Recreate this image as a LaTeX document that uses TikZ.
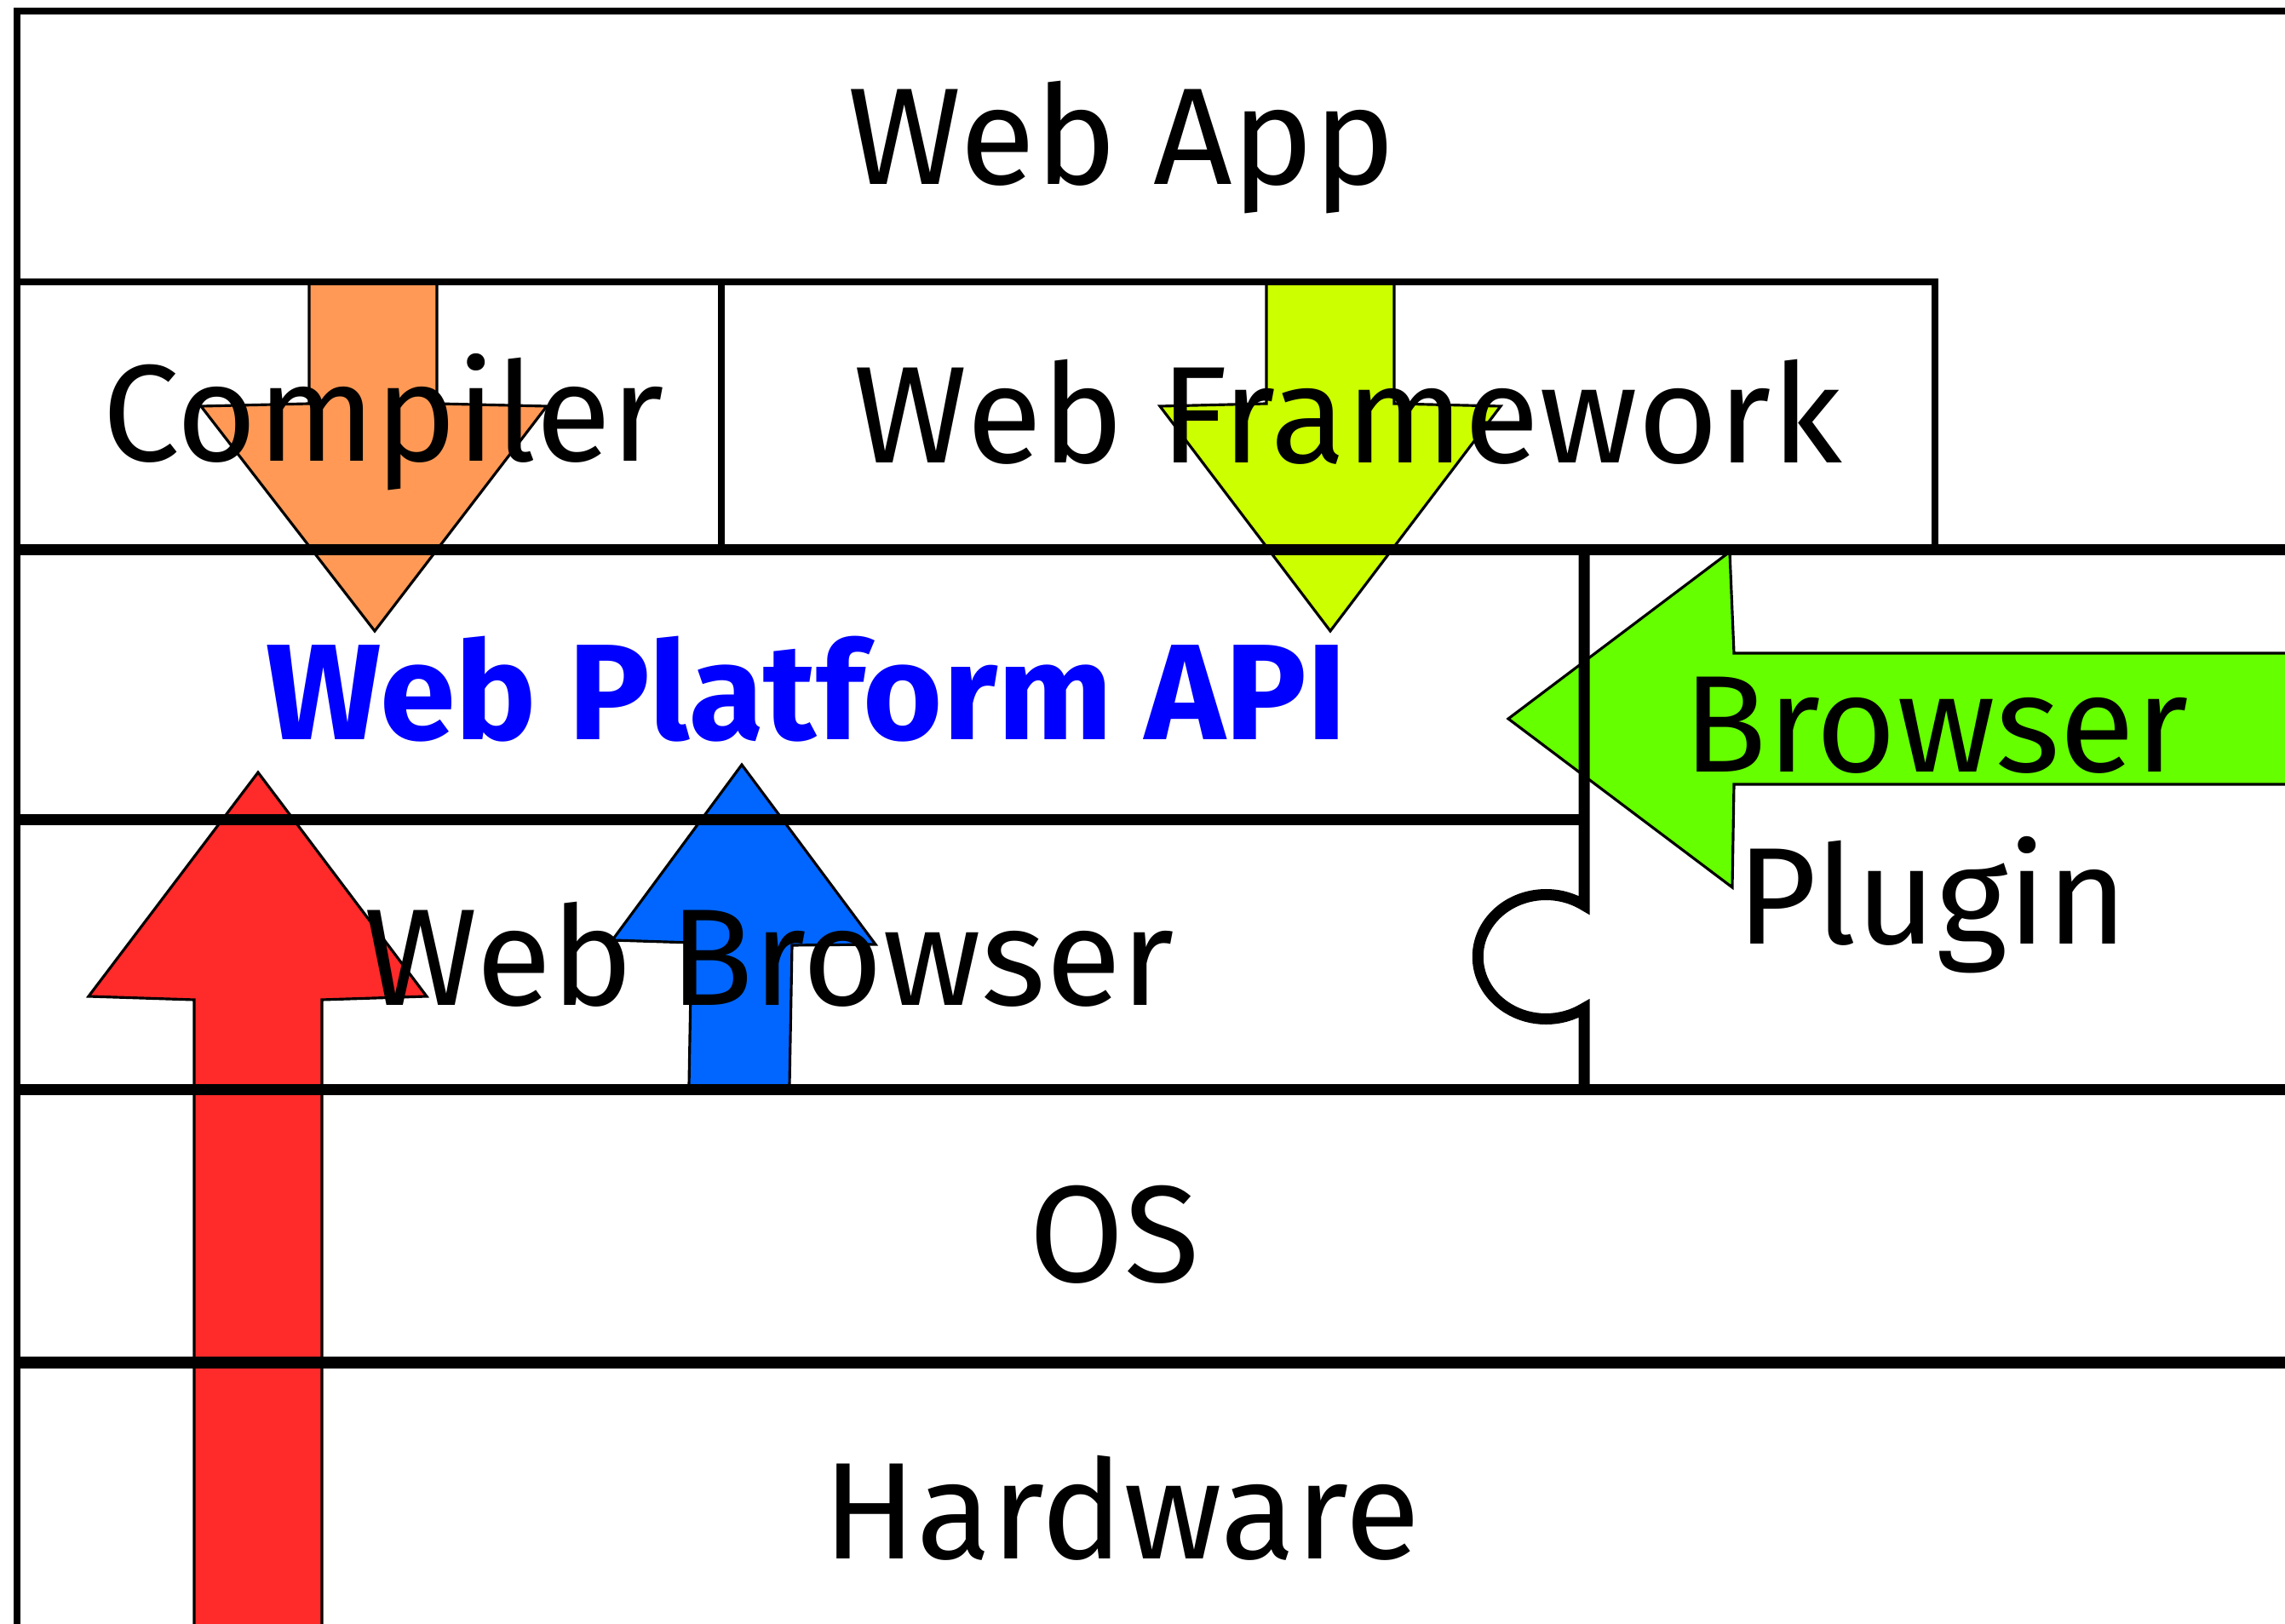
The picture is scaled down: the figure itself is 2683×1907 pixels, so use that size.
\documentclass[tikz,border=0pt]{standalone}
\usepackage{fontspec}
\setmainfont{Fira Sans}
\usetikzlibrary{positioning}

\definecolor{compilerorange}{HTML}{FF9955}
\definecolor{frameworklime}{HTML}{CCFF00}
\definecolor{hwred}{HTML}{FF2A2A}
\definecolor{browserblue}{HTML}{0066FF}
\definecolor{plugingreen}{HTML}{66FF00}
\definecolor{apiblue}{HTML}{0000FF}

\begin{document}
\begin{tikzpicture}[x=0.01cm,y=-0.01cm,
  thickrule/.style={line width=3.7pt},
  thinrule/.style={line width=2.3pt},
  blockarrow/.style={draw,line width=0.9pt,miter limit=20,fill=#1},
  laytext/.style={font=\fontsize{46}{50}\selectfont,anchor=base,inner sep=0pt},
]
\useasboundingbox (0,0) rectangle (2683,1907);
\clip (0,0) rectangle (2683,1907);

% === BLOCK ARROWS (under the layer rules) ===
\draw[blockarrow=compilerorange] (363,331) -- (363,474) -- (236,477) -- (440,741)
  -- (642,477) -- (513,474) -- (513,331) -- cycle;
\draw[blockarrow=frameworklime] (1487,331) -- (1487,474) -- (1362,477) -- (1562,741)
  -- (1762,477) -- (1637,474) -- (1637,331) -- cycle;
\draw[blockarrow=hwred] (228,1950) -- (228,1174) -- (104,1170) -- (303,907)
  -- (501,1170) -- (378,1174) -- (378,1950) -- cycle;
\draw[blockarrow=browserblue] (809,1275) -- (812,1107) -- (719,1104) -- (871,898)
  -- (1028,1109) -- (930,1110) -- (927,1275) -- cycle;
\draw[blockarrow=plugingreen] (2750,767) -- (2036,767) -- (2031,648) -- (1771,844)
  -- (2034,1042) -- (2036,921) -- (2750,921) -- cycle;

% === LAYER RULES ===
\draw[thinrule] (20,1950) -- (20,13) -- (2700,13);
\draw[thinrule] (20,331) -- (2272,331) -- (2272,646);
\draw[thinrule] (847,331) -- (847,646);
\draw[thickrule] (20,646) -- (2700,646);
\draw[thickrule] (20,963) -- (1860,963);
\draw[thickrule] (20,1280) -- (2700,1280);
\draw[thickrule] (20,1600) -- (2700,1600);

% plugin edge with its knob
\draw[thickrule] (1860,646) -- (1860,1063)
  arc[start angle=-56,end angle=-304,x radius=80,y radius=73] -- (1860,1280);

% === LABELS ===
\node[laytext] (webapp) at (1317,217) {Web App};
\node[laytext] (compiler) at (450,542) {Compiler};
\node[laytext] (framework) at (1583,544) {Web Framework};
\node[laytext,text=apiblue,font=\fontsize{45.5}{50}\selectfont\bfseries] (api) at (947,869) {Web Platform API};
\node[laytext] (browser) at (903,1181) {Web Browser};
\node[laytext] (plugin) at (2269,1109) {Plugin};
\node[laytext] (pluginarrow) at (2273,907) {Browser};
\node[laytext] (os) at (1309,1506) {OS};
\node[laytext] (hardware) at (1317,1831) {Hardware};

\end{tikzpicture}
\end{document}
